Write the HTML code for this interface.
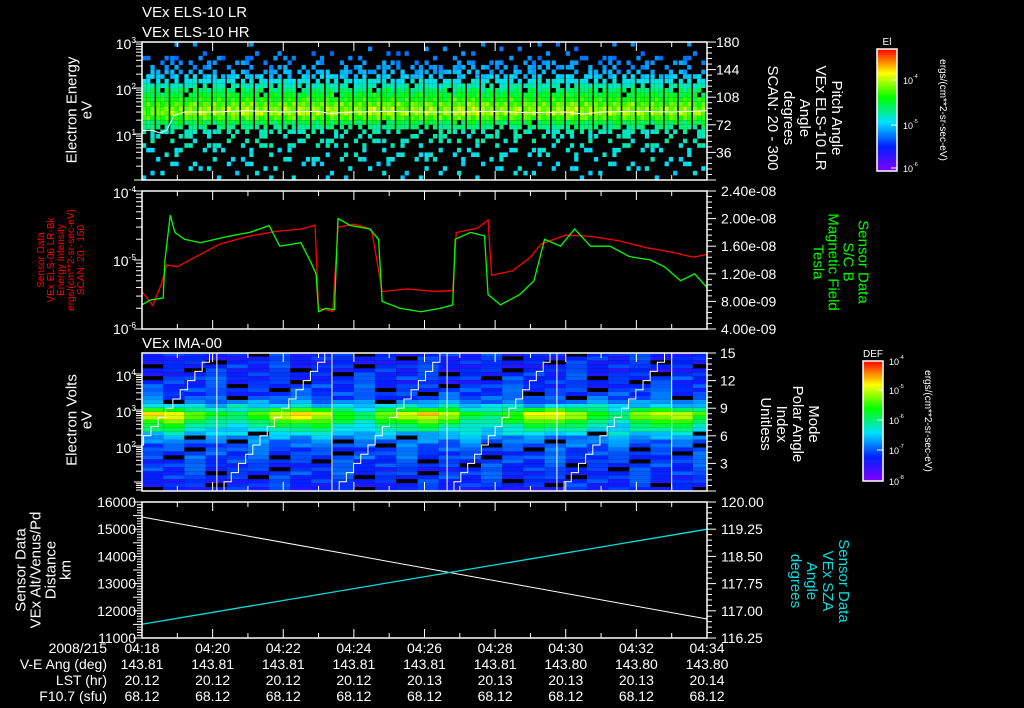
<!DOCTYPE html>
<html><head><meta charset="utf-8"><style>
html,body{margin:0;padding:0;background:#000;}
svg{display:block;font-family:"Liberation Sans",sans-serif;}
text{fill:#fff;}
</style></head><body>
<svg id="c" width="1024" height="708" viewBox="0 0 1024 708">
<defs>
<linearGradient id="cmap" x1="0" y1="1" x2="0" y2="0">
<stop offset="0" stop-color="#8000ff"/><stop offset="0.2" stop-color="#0020ff"/><stop offset="0.4" stop-color="#00e0ff"/><stop offset="0.6" stop-color="#00ff00"/><stop offset="0.8" stop-color="#ffff00"/><stop offset="1" stop-color="#ff0000"/>
</linearGradient>
</defs>
<g id="p1"></g>
<g id="p2"></g>
<g id="p3"></g>
<g id="p4"></g>
<g id="axes"></g>
<g id="labels"></g>
</svg>
<script>
// ---- data ----
const xTickLabels=["04:18","04:20","04:22","04:24","04:26","04:28","04:30","04:32","04:34"];
const veAng=["143.81","143.81","143.81","143.81","143.81","143.81","143.80","143.80","143.80"];
const lst=["20.12","20.12","20.12","20.12","20.13","20.13","20.13","20.13","20.14"];
const f107=["68.12","68.12","68.12","68.12","68.12","68.12","68.12","68.12","68.12"];
// panel 1: ELS spectrogram
const els1ColIntensity=[0.75,0.8,0.85,0.9,0.95,0.9,0.95,1.0,0.95,0.9,0.95,1.0,0.92,0.95,0.9,0.88,1.0,0.95,0.9,0.92,0.95,0.9,1.0,1.05,0.95,0.9,0.95,0.92,0.9,0.95,1.0,0.95,0.9,0.92,0.95,0.9,0.88,0.9,0.92,0.88];
const els1RowLevel=[0.4,0.4,0.4,0.4,0.42,0.42,0.42,0.45,0.45,0.45,0.45,0.5,0.55,0.66,0.74,0.72,0.68,0.62,0.58,0.52,0.46,0.42,0.38,0.35,0.33,0.32,0.3,0.3,0.3,0.3];
const els1RowDensity=[0.1,0.12,0.15,0.15,0.2,0.2,0.22,0.25,0.28,0.3,0.5,0.8,0.95,1,1,1,1,1,0.95,0.9,0.85,0.75,0.65,0.55,0.45,0.35,0.2,0.12,0.08,0.05];
const els1WhiteT=[0,0.3,0.5,0.7,0.9,1.2,2,3,4,5,5.3,6,7,8,9,10,11,12,12.5,13,14,15,16];
const els1WhiteE=[12,12,10.5,12,25,30,30,32,30,31,28,30,31,30,30,31,29,30,27,30,31,30,32];
// panel 2
const redT=[0,0.3,0.55,0.7,1.0,1.5,2.2,3.0,3.8,4.5,4.9,5.0,5.4,5.55,6.0,6.5,6.8,7.5,8.3,8.8,8.9,9.5,9.8,9.9,10.5,11.0,11.3,12.0,12.7,13.5,14.3,15.0,15.6,16.0];
const redV=[3.5e-6,2.2e-6,4.5e-6,8.5e-6,8e-6,1.1e-5,1.7e-5,2.2e-5,2.6e-5,2.8e-5,3.2e-5,2e-6,1.8e-6,3e-5,3.3e-5,2.8e-5,3.5e-6,3.8e-6,3.5e-6,3.6e-6,2.5e-5,2.9e-5,3.8e-5,6e-6,7e-6,1.1e-5,1.7e-5,2.3e-5,2.2e-5,1.9e-5,1.5e-5,1.3e-5,1.1e-5,1.2e-5];
const greenT=[0,0.23,0.6,0.65,0.8,0.93,1.2,1.65,2.5,3.05,3.6,3.9,4.5,4.75,4.93,5.0,5.2,5.45,5.55,5.9,6.45,6.7,6.8,7.3,7.9,8.45,8.8,8.87,9.3,9.7,9.8,10.15,10.7,11.1,11.4,11.85,12.25,12.7,13.25,13.8,14.4,14.8,15.25,15.65,16];
const greenB=[7.5e-9,8.2e-9,8.5e-9,14e-9,20.5e-9,18e-9,17e-9,16.5e-9,17.5e-9,18e-9,19e-9,16e-9,16.5e-9,14e-9,12e-9,6.5e-9,7e-9,6.8e-9,20e-9,19e-9,18.5e-9,17e-9,8e-9,7e-9,6.5e-9,7e-9,7.5e-9,17e-9,18e-9,17.5e-9,9e-9,7.5e-9,9e-9,11e-9,17e-9,16e-9,18.5e-9,16e-9,16e-9,14.5e-9,14e-9,13e-9,11e-9,12e-9,10e-9];
// panel 3
const imaModeBounds=[-1.2,2.12,5.38,8.64,11.75,15.0];
const imaColBand=[0.68,0.7,0.5,0.4,0.3,0.5,0.64,0.7,0.66,0.45,0.35,0.5,0.64,0.7,0.58,0.42,0.35,0.5,0.62,0.68,0.58,0.4,0.35,0.55,0.64,0.6,0.45];
const imaRowProfile=[0.18,0.2,0.2,0.21,0.22,0.21,0.22,0.22,0.24,0.23,0.24,0.26,0.28,0.32,0.38,0.45,0.5,0.58,0.66,0.7,0.55,0.4,0.3,0.25,0.23,0.22,0.22,0.2,0.22,0.2,0.19,0.2,0.19,0.19,0.19];
// panel 4
const altT=[0,16];const altV=[15450,11700];
const szaT=[0,16];const szaV=[116.63,119.25];
// texture pattern (visual speckle)
const tex=[0.1,0.7,0.35,0.9,0.2,0.55,0.05,0.8,0.45,0.65,0.25,0.95,0.4,0.15,0.75,0.5,0.3,0.85,0.6,0.02,0.92,0.38,0.68,0.12,0.58,0.28,0.82,0.48,0.18,0.72,0.98];

// ---- scales ----
const X0=142,X1=707;
const xT=t=>X0+t*(X1-X0)/16;
const yE1=l=>180-l*46;
const yL=v=>329-(Math.log10(v)+6)*69;
const yR=b=>329-(b-4e-9)/2e-8*138;
const yE3=l=>491-(l-0.75)*36;
const yIdx=i=>491-i*9.2;
const yAlt=a=>638-(a-11000)/5000*136;
const ySza=s=>638-(s-116.25)/3.75*136;
const NS="http://www.w3.org/2000/svg";
function mk(tag,at,parent){const e=document.createElementNS(NS,tag);for(const k in at)e.setAttribute(k,at[k]);parent.appendChild(e);return e;}
const STOPS=[[0,128,0,255],[0.2,0,32,255],[0.4,0,224,255],[0.6,0,255,0],[0.8,255,255,0],[1,255,0,0]];
const cm=v=>{v=Math.max(0,Math.min(1,v));for(let i=0;i<STOPS.length-1;i++){const a=STOPS[i],b=STOPS[i+1];if(v<=b[0]){const f=(v-a[0])/(b[0]-a[0]);
  return `rgb(${Math.round(a[1]+(b[1]-a[1])*f)},${Math.round(a[2]+(b[2]-a[2])*f)},${Math.round(a[3]+(b[3]-a[3])*f)})`;}}return 'rgb(255,0,0)';};
const TN=tex.length;
const g1=document.getElementById('p1'),g2=document.getElementById('p2'),g3=document.getElementById('p3'),g4=document.getElementById('p4'),ga=document.getElementById('axes'),gl=document.getElementById('labels');

// panel1 cells
els1ColIntensity.forEach((ci,c)=>{
  const xa=xT(c*0.4), xb=xT((c+1)*0.4)-1.5, sw=(xb-xa)/3;
  for(let s=0;s<3;s++){
    els1RowLevel.forEach((lv,r)=>{
      const tx=tex[(c*11+s*7+r*5)%TN];
      if(tx>els1RowDensity[r])return;
      let v=lv;
      if(lv>0.5) v=0.45+(lv-0.45)*ci+(tex[(c*3+s+r*7)%TN]-0.5)*0.12;
      else v=lv+(tex[(c+s*5+r*3)%TN]-0.5)*0.06;
      const y=yE1((r+1)*0.1),h=yE1(r*0.1)-y;
      const cell=mk('rect',{x:xa+s*sw,y:y,width:sw,height:h,fill:cm(v)},g1);
      
      
    });
  }
});
let wl=mk('polyline',{points:els1WhiteT.map((t,i)=>xT(t)+','+yE1(Math.log10(els1WhiteE[i]))).join(' '),fill:'none',stroke:'#fff','stroke-width':1},g1);


// panel2 lines
let rl=mk('polyline',{points:redT.map((t,i)=>xT(t)+','+yL(redV[i])).join(' '),fill:'none',stroke:'#ff0000','stroke-width':1.3},g2);

let gn=mk('polyline',{points:greenT.map((t,i)=>xT(t)+','+yR(greenB[i])).join(' '),fill:'none',stroke:'#00ff00','stroke-width':1.3},g2);


// panel3 cells
imaColBand.forEach((b,c)=>{
  const x=xT(c*0.6), w=xT(Math.min(16,(c+1)*0.6))-x;
  imaRowProfile.forEach((rp,r)=>{
    const l0=0.75+r*0.11,l1=l0+0.11;
    const tx=tex[(c*5+r*4)%TN];
    let v;
    if(rp>0.4) v=0.25+(rp-0.25)*b/0.55+(tx-0.5)*0.08; else v=rp+(tx-0.5)*0.14;
    let fill=cm(v);
    if(tx<0.11&&rp<0.4) fill='#000';
    const cell=mk('rect',{x:x,y:yE3(Math.min(l1,4.58)),width:w,height:yE3(l0)-yE3(Math.min(l1,4.58)),fill:fill},g3);
    
    
  });
});
for(let m=0;m<imaModeBounds.length-1;m++){
  const t0=imaModeBounds[m],t1=imaModeBounds[m+1];
  let pts=[];
  for(let i=0;i<16;i++){const ta=t0+(t1-t0)*i/16,tb=t0+(t1-t0)*(i+1)/16;
    const a=Math.max(ta,0),bq=Math.min(tb,16); if(bq<=0||a>=16)continue;
    pts.push(xT(a)+','+yIdx(i),xT(bq)+','+yIdx(i));}
  const s=mk('polyline',{points:pts.join(' '),fill:'none',stroke:'#fff','stroke-width':1},g3);
  
  if(t1<16){const v=mk('line',{x1:xT(t1),x2:xT(t1),y1:353,y2:491,stroke:'#fff','stroke-width':1},g3);
  }
}
// panel4 lines
let al=mk('polyline',{points:altT.map((t,i)=>xT(t)+','+yAlt(altV[i])).join(' '),fill:'none',stroke:'#fff','stroke-width':1},g4);

let sl=mk('polyline',{points:szaT.map((t,i)=>xT(t)+','+ySza(szaV[i])).join(' '),fill:'none',stroke:'#00e0e0','stroke-width':1.3},g4);


// ---- axes ----
const panels=[[42,180],[191,329],[353,491],[502,638]];
function txt(s,x,y,at,parent){const e=mk('text',Object.assign({x:x,y:y},at||{}),parent||gl);e.textContent=s;return e;}
panels.forEach(([t,b])=>{
  const r=mk('rect',{x:X0,y:t,width:X1-X0,height:b-t,fill:'none',stroke:'#fff','stroke-width':1.5},ga);
  
  for(let m=0;m<=16;m++){const x=xT(m),L=m%2?5:9;
    mk('line',{x1:x,x2:x,y1:t,y2:t+L,stroke:'#fff'},ga);mk('line',{x1:x,x2:x,y1:b,y2:b-L,stroke:'#fff'},ga);}
});
function logLeft(top,bot,d0,d1,yf){
  for(let d=d0;d<d1;d++)for(let k=1;k<10;k++){const y=yf(Math.log10(k)+d);if(y<top-0.5||y>bot+0.5)continue;
    mk('line',{x1:X0-(k==1?8:6),x2:X0,y1:y,y2:y,stroke:'#fff'},ga);}
  mk('line',{x1:X0-8,x2:X0,y1:yf(d1),y2:yf(d1),stroke:'#fff'},ga);
}
function linRight(top,bot,n){for(let i=0;i<=n;i++){const y=bot-(bot-top)*i/n;mk('line',{x1:X1,x2:X1+(i%5==0?9:5),y1:y,y2:y,stroke:'#fff'},ga);}}
function linLeft(top,bot,n){for(let i=0;i<=n;i++){const y=bot-(bot-top)*i/n;mk('line',{x1:X0-(i%5==0?9:5),x2:X0,y1:y,y2:y,stroke:'#fff'},ga);}}
logLeft(42,180,0,3,yE1);linRight(42,180,25);
logLeft(191,329,-6,-4,l=>329-(l+6)*69);linRight(191,329,25);
logLeft(353,491,0,4,yE3);linRight(353,491,25);
linLeft(502,638,50);linRight(502,638,25);
const F={'font-size':14};
function pow(base,exp,x,y,anchor,fs){const e=mk('text',{x:x,y:y,'font-size':fs||14,'text-anchor':anchor||'end'},gl);
  e.innerHTML=base+'<tspan dy="-6" font-size="'+((fs||14)*0.6)+'">'+exp+'</tspan>';return e;}
[[1,'1'],[2,'2'],[3,'3']].forEach(([l,s])=>pow('10',s,136,yE1(l)+7));
pow('10','-4',136,198);pow('10','-5',136,266);pow('10','-6',136,334);
[[2,'2'],[3,'3'],[4,'4']].forEach(([l,s])=>pow('10',s,136,yE3(l)+7));
["180","144","108","72","36"].forEach((s,i)=>txt(s,716,47+i*27.6,F));
["2.40e-08","2.00e-08","1.60e-08","1.20e-08","8.00e-09","4.00e-09"].forEach((s,i)=>txt(s,721,196+i*27.6,F));
["15","12","9","6","3"].forEach((s,i)=>txt(s,720,358+i*27.6,F));
["120.00","119.25","118.50","117.75","117.00","116.25"].forEach((s,i)=>txt(s,721,507+i*27.2,F));
["16000","15000","14000","13000","12000","11000"].forEach((s,i)=>txt(s,136,507+i*27.2,Object.assign({'text-anchor':'end'},F)));
xTickLabels.forEach((s,i)=>{const x=xT(i*2);
  txt(s,x,653,{'font-size':14,'text-anchor':'middle'});txt(veAng[i],x,669,{'font-size':14,'text-anchor':'middle'});
  txt(lst[i],x,685,{'font-size':14,'text-anchor':'middle'});txt(f107[i],x,701,{'font-size':14,'text-anchor':'middle'});});
["2008/215","V-E Ang (deg)","LST (hr)","F10.7 (sfu)"].forEach((s,i)=>txt(s,107,653+i*16,{'font-size':14,'text-anchor':'end'}));
txt("VEx ELS-10 LR",142,17,{'font-size':15});txt("VEx ELS-10 HR",142,37,{'font-size':15});
txt("VEx IMA-00",142,348,{'font-size':15});
function vlab(lines,cx,cy,rot,step,color,fs){
  lines.forEach((s,i)=>{const off=(i-(lines.length-1)/2)*step;
    const x=rot<0?cx+off:cx-off;
    const e=mk('text',{x:x,y:cy,'font-size':fs,'text-anchor':'middle',transform:`rotate(${rot} ${x} ${cy})`,style:'fill:'+color},gl);
    e.textContent=s;});
}
vlab(["Electron Energy","eV"],84,110,-90,15,'#fff',15);
vlab(["Pitch Angle","VEx ELS-10 LR","Angle","degrees","SCAN: 20 - 300"],800,118,90,16,'#fff',15);
vlab(["Sensor Data","VEx ELS-06 LR-Bk","Energy Intensity","ergs/(cm**2-sr-sec-eV)","SCAN: 20 - 150"],64,260,-90,10,'#ff0000',10);
vlab(["Sensor Data","S/C B","Magnetic Field","Tesla"],836,262,90,15,'#00ff00',15);
vlab(["Electron Volts","eV"],84,420,-90,15,'#fff',15);
vlab(["Mode","Polar Angle","Index","Unitless"],785,424,90,16,'#fff',15);
vlab(["Sensor Data","VEx Alt/Venus/Pd","Distance","km"],48,570,-90,15,'#fff',15);
vlab(["Sensor Data","VEx SZA","Angle","degrees"],815,581,90,16,'#00e0e0',15);
// colorbars
function cbar(x,y1,y2,title,labs,unitX,name){
  const r=mk('rect',{x:x,y:y1,width:20,height:y2-y1,fill:'url(#cmap)',stroke:'#fff','stroke-width':1.5},ga);
  
  txt(title,x+10,y1-4,{'font-size':10,'text-anchor':'middle'});
  labs.forEach(([yy,e])=>{pow('10',e,x+26,yy+4,'start',9);mk('line',{x1:x+14,x2:x+20,y1:yy,y2:yy,stroke:'#fff'},ga);});
  vlab(["ergs/(cm**2-sr-sec-eV)"],unitX,(y1+y2)/2,90,0,'#fff',10);
}
cbar(877,49,171,"El",[[80,'-4'],[125,'-5'],[168,'-6']],940,'el-colorbar');
cbar(863,361,481,"DEF",[[361,'-4'],[390,'-5'],[420,'-6'],[450,'-7'],[481,'-8']],925,'def-colorbar');
</script>
</body></html>
